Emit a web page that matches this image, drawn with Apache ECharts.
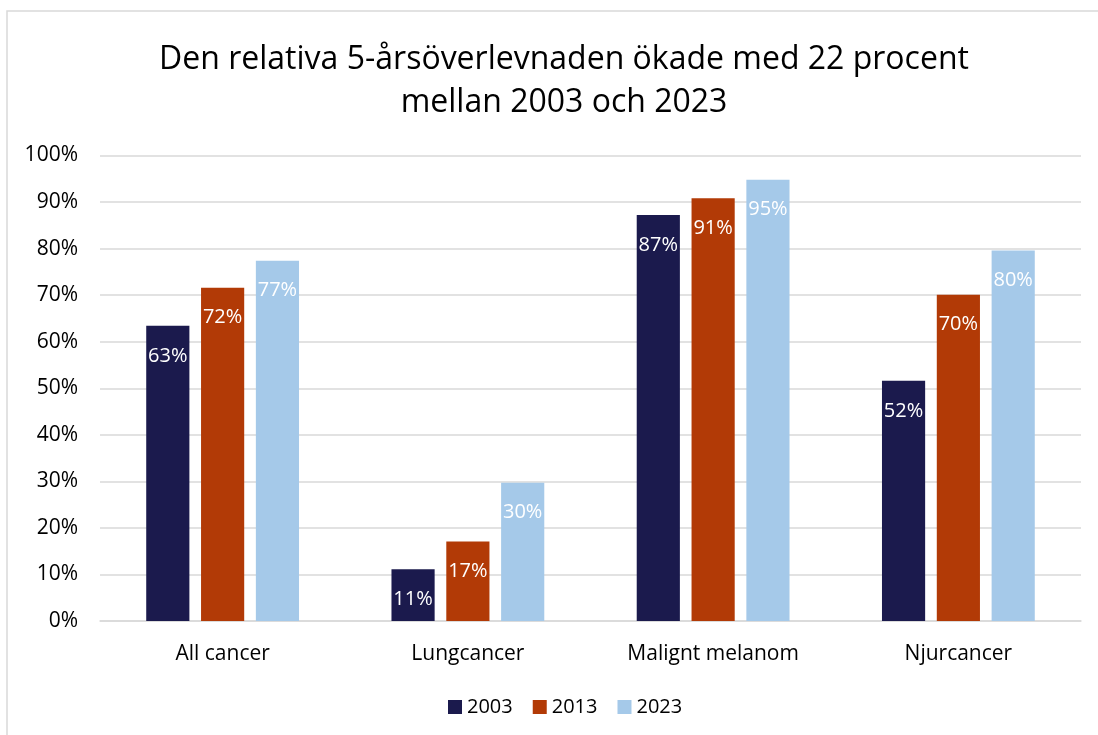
<!DOCTYPE html>
<html>
<head>
<meta charset="utf-8">
<script src="https://cdn.jsdelivr.net/npm/echarts@6/dist/echarts.min.js"></script>
<style>
html,body{margin:0;padding:0;background:#fff;}
#chart{width:1098px;height:735px;}
</style>
</head>
<body>
<div id="chart"></div>
<script>
const categories = ['All cancer', 'Lungcancer', 'Malignt melanom', 'Njurcancer'];
const seriesNames = ['2003', '2013', '2023'];
const values2003 = [63.4, 11.1, 87.2, 51.6];
const values2013 = [71.6, 17.1, 90.8, 70.1];
const values2023 = [77.4, 29.7, 94.8, 79.6];
const yTicks = [0, 10, 20, 30, 40, 50, 60, 70, 80, 90, 100];
const titleText = 'Den relativa 5-årsöverlevnaden ökade med 22 procent\nmellan 2003 och 2023';

const colors = ['#1b1a4d', '#b23a06', '#a5c9e9'];
const FONT = '"Open Sans", Lato, sans-serif';

const chart = echarts.init(document.getElementById('chart'), null, {renderer: 'canvas'});
const allValues = [values2003, values2013, values2023];

chart.setOption({
  animation: false,
  backgroundColor: '#fff',
  color: colors,
  textStyle: {fontFamily: FONT},
  title: {
    text: titleText,
    left: 559,
    textAlign: 'center',
    top: 33,
    textStyle: {fontFamily: FONT, fontSize: 32, fontWeight: 'normal', color: '#000', lineHeight: 43}
  },
  graphic: [{
    type: 'polyline',
    shape: {points: [[7, 735], [7, 11], [1098, 11]]},
    style: {stroke: '#d9d9d9', lineWidth: 1.5, fill: null},
    silent: true
  }],
  legend: {
    data: seriesNames,
    bottom: 13,
    left: 443,
    itemWidth: 14,
    itemHeight: 14,
    itemGap: 20,
    icon: 'rect',
    textStyle: {fontFamily: FONT, fontSize: 20, color: '#000'}
  },
  grid: {left: 100, right: 17, top: 155.5, bottom: 114, containLabel: false},
  xAxis: {
    type: 'category',
    data: categories,
    axisTick: {show: false},
    axisLine: {show: true, lineStyle: {color: '#d9d9d9', width: 1.5}},
    axisLabel: {fontFamily: FONT, fontSize: 21, color: '#000', margin: 23}
  },
  yAxis: {
    type: 'value',
    min: 0,
    max: 100,
    interval: 10,
    axisLine: {show: false},
    axisTick: {show: false},
    splitLine: {lineStyle: {color: '#d9d9d9', width: 1.5}},
    axisLabel: {
      fontFamily: FONT, fontSize: 21, color: '#000', margin: 22,
      formatter: v => yTicks.includes(v) ? v + '%' : ''
    }
  },
  series: seriesNames.map((name, i) => ({
    name: name,
    type: 'bar',
    data: allValues[i],
    barWidth: '17.6%',
    barGap: '27%',
    itemStyle: {color: colors[i]},
    label: {
      show: true,
      position: 'insideTop',
      distance: 20,
      color: '#fff',
      fontFamily: FONT,
      fontSize: 20,
      formatter: p => Math.round(p.value) + '%'
    }
  }))
});
</script>
</body>
</html>
